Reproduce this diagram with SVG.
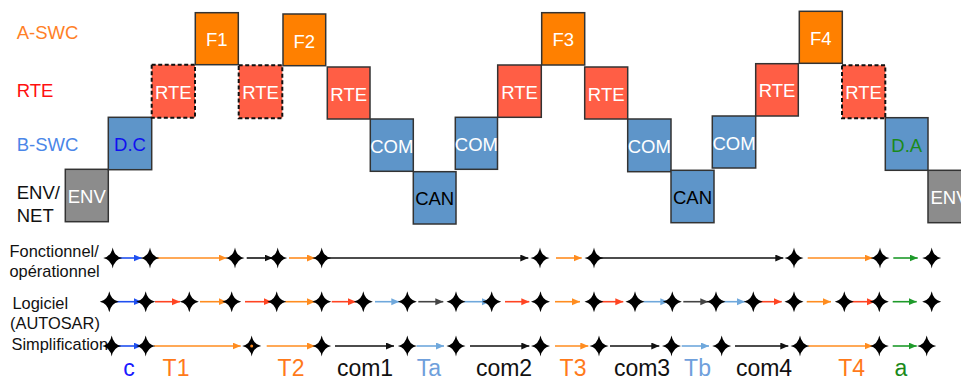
<svg xmlns="http://www.w3.org/2000/svg" xmlns:xlink="http://www.w3.org/1999/xlink" width="961" height="381" viewBox="0 0 961 381">
<style>
text{font-family:"Liberation Sans",Arial,sans-serif}
.box{stroke:#333;stroke-width:1.5}
.dash{stroke:#111;stroke-width:2;stroke-dasharray:4 2.5}
.fa{fill:#FF8000}.rte{fill:#FF5E45}.bs{fill:#5E95C9}.env{fill:#8C8C8C}
.bt{font-size:18.5px;text-anchor:middle;fill:#fff}
.lab{font-size:18.5px}
.rl{font-size:16.4px;fill:#111}
.bl{font-size:23px;text-anchor:middle}
.ln{fill:none;stroke-width:1.6}
.cb{stroke:#2050F0;marker-end:url(#mb)}
.co{stroke:#FF8C1F;marker-end:url(#mo)}
.cr{stroke:#FF4422;marker-end:url(#mr)}
.cl{stroke:#6FA8DC;marker-end:url(#ml)}
.ck{stroke:#111;marker-end:url(#mk)}
.cd{stroke:#444;marker-end:url(#md)}
.cg{stroke:#1E9A2A;marker-end:url(#mg)}
</style>
<defs>
<marker id="mb" markerUnits="userSpaceOnUse" markerWidth="9" markerHeight="8" refX="8" refY="3.5" orient="auto"><path d="M0,0L8,3.5L0,7Z" fill="#2050F0"/></marker>
<marker id="mo" markerUnits="userSpaceOnUse" markerWidth="9" markerHeight="8" refX="8" refY="3.5" orient="auto"><path d="M0,0L8,3.5L0,7Z" fill="#FF8C1F"/></marker>
<marker id="mr" markerUnits="userSpaceOnUse" markerWidth="9" markerHeight="8" refX="8" refY="3.5" orient="auto"><path d="M0,0L8,3.5L0,7Z" fill="#FF4422"/></marker>
<marker id="ml" markerUnits="userSpaceOnUse" markerWidth="9" markerHeight="8" refX="8" refY="3.5" orient="auto"><path d="M0,0L8,3.5L0,7Z" fill="#6FA8DC"/></marker>
<marker id="mk" markerUnits="userSpaceOnUse" markerWidth="9" markerHeight="8" refX="8" refY="3.5" orient="auto"><path d="M0,0L8,3.5L0,7Z" fill="#111"/></marker>
<marker id="md" markerUnits="userSpaceOnUse" markerWidth="9" markerHeight="8" refX="8" refY="3.5" orient="auto"><path d="M0,0L8,3.5L0,7Z" fill="#444"/></marker>
<marker id="mg" markerUnits="userSpaceOnUse" markerWidth="9" markerHeight="8" refX="8" refY="3.5" orient="auto"><path d="M0,0L8,3.5L0,7Z" fill="#1E9A2A"/></marker>
<path id="st" d="M0,-10.5Q1.6,-1.6 9.5,0Q1.6,1.6 0,10.5Q-1.6,1.6 -9.5,0Q-1.6,-1.6 0,-10.5Z" fill="#000"/>
</defs>
<rect width="961" height="381" fill="#fff"/>

<g id="layer-labels">
<text class="lab" x="16.7" y="39" fill="#FF7F27">A-SWC</text>
<text class="lab" x="16.7" y="96.7" fill="#FF1010">RTE</text>
<text class="lab" x="16.7" y="151" fill="#4A86E8">B-SWC</text>
<text class="lab" x="16.7" y="199" fill="#111">ENV/</text>
<text class="lab" x="16.7" y="221.7" fill="#111">NET</text>
</g>

<g id="n-env1"><rect class="box env" x="65.3" y="169.3" width="43" height="52.4"/><text class="bt" x="86.8" y="203" fill="#f2f2f2">ENV</text></g>
<g id="n-dc"><rect class="box bs" x="108.3" y="117.3" width="43.4" height="52.4"/><text class="bt" x="130" y="151" style="fill:#1010F0">D.C</text></g>
<g id="n-rte1"><rect class="dash rte" x="151.7" y="64.7" width="43.3" height="53"/><text class="bt" x="173.3" y="98.7">RTE</text></g>
<g id="n-f1"><rect class="box fa" x="195.3" y="12.7" width="43" height="52"/><text class="bt" x="216.8" y="46.3">F1</text></g>
<g id="n-rte2"><rect class="dash rte" x="238.7" y="65.3" width="43.6" height="53"/><text class="bt" x="260.5" y="99.3">RTE</text></g>
<g id="n-f2"><rect class="box fa" x="283" y="14" width="42.7" height="51.7"/><text class="bt" x="304.3" y="47.5">F2</text></g>
<g id="n-rte3"><rect class="box rte" x="327.3" y="67" width="42.7" height="52"/><text class="bt" x="348.7" y="100.5">RTE</text></g>
<g id="n-com1"><rect class="box bs" x="370.3" y="119" width="43" height="52.3"/><text class="bt" x="391.8" y="152.7">COM</text></g>
<g id="n-can1"><rect class="box bs" x="413.3" y="171.7" width="42.7" height="52.3"/><text class="bt" x="434.7" y="205.3" style="fill:#000">CAN</text></g>
<g id="n-com2"><rect class="box bs" x="455.3" y="117.3" width="42.2" height="52"/><text class="bt" x="476.4" y="150.8">COM</text></g>
<g id="n-rte4"><rect class="box rte" x="497.7" y="65" width="43.6" height="52.3"/><text class="bt" x="519.5" y="98.6">RTE</text></g>
<g id="n-f3"><rect class="box fa" x="541.7" y="12.7" width="43" height="52.3"/><text class="bt" x="563.2" y="46.3">F3</text></g>
<g id="n-rte5"><rect class="box rte" x="584.7" y="67" width="43" height="52"/><text class="bt" x="606.2" y="100.5">RTE</text></g>
<g id="n-com3"><rect class="box bs" x="627.7" y="119" width="43.3" height="52.7"/><text class="bt" x="649.3" y="152.8">COM</text></g>
<g id="n-can2"><rect class="box bs" x="671" y="170.3" width="43" height="52.4"/><text class="bt" x="692.5" y="204" style="fill:#000">CAN</text></g>
<g id="n-com4"><rect class="box bs" x="712.3" y="116" width="43.4" height="52"/><text class="bt" x="734" y="149.5">COM</text></g>
<g id="n-rte6"><rect class="box rte" x="755.7" y="63.7" width="42.6" height="52.3"/><text class="bt" x="777" y="97.3">RTE</text></g>
<g id="n-f4"><rect class="box fa" x="799.3" y="11.3" width="43" height="52"/><text class="bt" x="820.8" y="44.8">F4</text></g>
<g id="n-rte7"><rect class="dash rte" x="842" y="65.3" width="43.3" height="53"/><text class="bt" x="863.6" y="99.3">RTE</text></g>
<g id="n-da"><rect class="box bs" x="885.3" y="117.7" width="42.7" height="52.6"/><text class="bt" x="906.7" y="151.5" style="fill:#1A8A1A">D.A</text></g>
<g id="n-env2"><rect class="box env" x="928" y="170.3" width="43" height="52.4"/><text class="bt" x="949.5" y="204" fill="#f2f2f2">ENV</text></g>

<g id="row-labels">
<text class="rl" x="9.5" y="256.7">Fonctionnel/</text>
<text class="rl" x="9.5" y="276.7">opérationnel</text>
<text class="rl" x="12.5" y="308.5">Logiciel</text>
<text class="rl" x="10" y="329">(AUTOSAR)</text>
<text class="rl" x="11.5" y="350">Simplification</text>
</g>

<g id="connectors">
<line class="ln cb" x1="118" y1="258" x2="141.7" y2="258"/>
<line class="ln co" x1="155" y1="258" x2="226.7" y2="258"/>
<line class="ln ck" x1="246.7" y1="258" x2="272.7" y2="258"/>
<line class="ln co" x1="289" y1="258" x2="315" y2="258"/>
<line class="ln ck" x1="328" y1="258" x2="528.3" y2="258"/>
<line class="ln co" x1="556" y1="258" x2="581.7" y2="258"/>
<line class="ln ck" x1="600" y1="258" x2="783.3" y2="258"/>
<line class="ln co" x1="807.7" y1="258" x2="872.7" y2="258"/>
<line class="ln cg" x1="893.3" y1="258" x2="917.7" y2="258"/>

<line class="ln cb" x1="115" y1="301.7" x2="141.7" y2="301.7"/>
<line class="ln cr" x1="155" y1="301.7" x2="180" y2="301.7"/>
<line class="ln co" x1="200" y1="301.7" x2="226.7" y2="301.7"/>
<line class="ln cr" x1="245" y1="301.7" x2="271.7" y2="301.7"/>
<line class="ln co" x1="285" y1="301.7" x2="315" y2="301.7"/>
<line class="ln cr" x1="331.7" y1="301.7" x2="356" y2="301.7"/>
<line class="ln cl" x1="375" y1="301.7" x2="399.3" y2="301.7"/>
<line class="ln cd" x1="418.3" y1="301.7" x2="443.3" y2="301.7"/>
<line class="ln cl" x1="464" y1="301.7" x2="490" y2="301.7"/>
<line class="ln cr" x1="505" y1="301.7" x2="529.3" y2="301.7"/>
<line class="ln co" x1="555" y1="301.7" x2="580" y2="301.7"/>
<line class="ln cr" x1="600" y1="301.7" x2="623.3" y2="301.7"/>
<line class="ln cl" x1="643.3" y1="301.7" x2="668.3" y2="301.7"/>
<line class="ln cd" x1="683.3" y1="301.7" x2="708.3" y2="301.7"/>
<line class="ln cl" x1="720" y1="301.7" x2="745" y2="301.7"/>
<line class="ln cr" x1="756.7" y1="301.7" x2="781.7" y2="301.7"/>
<line class="ln co" x1="806.7" y1="301.7" x2="831" y2="301.7"/>
<line class="ln cr" x1="850" y1="301.7" x2="875" y2="301.7"/>
<line class="ln cg" x1="892.7" y1="301.7" x2="916.7" y2="301.7"/>

<line class="ln cb" x1="115" y1="346" x2="141.7" y2="346"/>
<line class="ln co" x1="154" y1="346" x2="240.7" y2="346"/>
<line class="ln co" x1="266.7" y1="346" x2="315" y2="346"/>
<line class="ln ck" x1="335" y1="346" x2="394" y2="346"/>
<line class="ln cl" x1="416.7" y1="346" x2="444" y2="346"/>
<line class="ln ck" x1="470" y1="346" x2="529.3" y2="346"/>
<line class="ln co" x1="555" y1="346" x2="588.3" y2="346"/>
<line class="ln ck" x1="610" y1="346" x2="659.3" y2="346"/>
<line class="ln cl" x1="681.7" y1="346" x2="709" y2="346"/>
<line class="ln ck" x1="735" y1="346" x2="788.3" y2="346"/>
<line class="ln co" x1="808.3" y1="346" x2="872.7" y2="346"/>
<line class="ln cg" x1="892.7" y1="346" x2="916.7" y2="346"/>
</g>

<g id="events">
<use href="#st" x="112.7" y="258"/><use href="#st" x="150" y="258"/><use href="#st" x="235" y="258"/><use href="#st" x="277.7" y="258"/><use href="#st" x="321.7" y="258"/><use href="#st" x="540" y="258"/><use href="#st" x="594" y="258"/><use href="#st" x="794" y="258"/><use href="#st" x="880" y="258"/><use href="#st" x="931.7" y="258"/>

<use href="#st" x="109.3" y="301.7"/><use href="#st" x="145.7" y="301.7"/><use href="#st" x="189.3" y="301.7"/><use href="#st" x="231.7" y="301.7"/><use href="#st" x="276.7" y="301.7"/><use href="#st" x="321.7" y="301.7"/><use href="#st" x="363.3" y="301.7"/><use href="#st" x="407.3" y="301.7"/><use href="#st" x="456" y="301.7"/><use href="#st" x="491.7" y="301.7"/><use href="#st" x="540.5" y="301.7"/><use href="#st" x="594" y="301.7"/><use href="#st" x="635" y="301.7"/><use href="#st" x="672.3" y="301.7"/><use href="#st" x="716" y="301.7"/><use href="#st" x="753.3" y="301.7"/><use href="#st" x="794" y="301.7"/><use href="#st" x="844.3" y="301.7"/><use href="#st" x="879.3" y="301.7"/><use href="#st" x="931.7" y="301.7"/>

<use href="#st" x="111.7" y="346"/><use href="#st" x="145.7" y="346"/><use href="#st" x="251.7" y="346"/><use href="#st" x="321.7" y="346"/><use href="#st" x="407.3" y="346"/><use href="#st" x="456" y="346"/><use href="#st" x="540.5" y="346"/><use href="#st" x="599" y="346"/><use href="#st" x="671.5" y="346"/><use href="#st" x="721.7" y="346"/><use href="#st" x="800" y="346"/><use href="#st" x="879.3" y="346"/><use href="#st" x="926.7" y="346"/>
<circle cx="251.7" cy="346" r="1.5" fill="#FF8C1F"/>
</g>

<g id="phase-labels">
<text class="bl" x="129" y="376" fill="#1a1aff">c</text>
<text class="bl" x="176" y="376" fill="#FF7A1A">T1</text>
<text class="bl" x="291" y="376" fill="#FF7A1A">T2</text>
<text class="bl" x="365" y="376" fill="#111">com1</text>
<text class="bl" x="429" y="376" fill="#6FA0DC">Ta</text>
<text class="bl" x="504" y="376" fill="#111">com2</text>
<text class="bl" x="573" y="376" fill="#FF7A1A">T3</text>
<text class="bl" x="642" y="376" fill="#111">com3</text>
<text class="bl" x="697.5" y="376" fill="#6FA0DC">Tb</text>
<text class="bl" x="764" y="376" fill="#111">com4</text>
<text class="bl" x="851.7" y="376" fill="#FF7A1A">T4</text>
<text class="bl" x="901" y="376" fill="#1A8A1A">a</text>
</g>
</svg>
